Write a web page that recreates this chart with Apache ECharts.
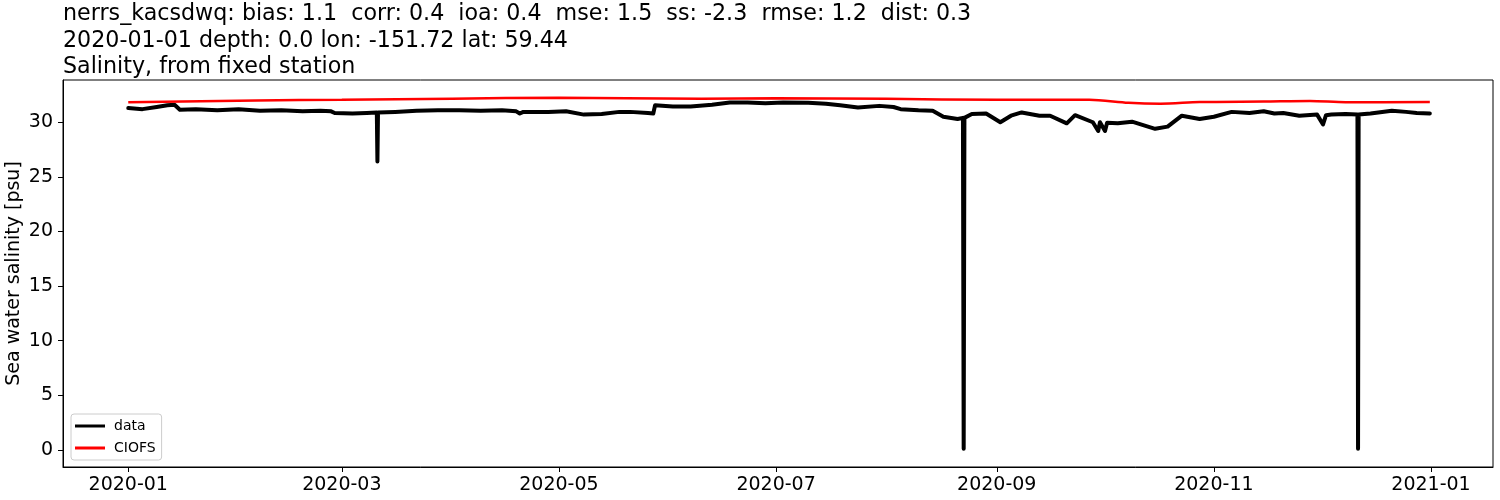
<!DOCTYPE html>
<html>
<head>
<meta charset="utf-8">
<script src="https://cdn.jsdelivr.net/npm/echarts@6/dist/echarts.min.js"></script>
<style>html,body{margin:0;padding:0;background:#fff}#c{width:1500px;height:500px}</style>
</head>
<body>
<div id="c"></div>
<script>
// ---- data ----
const titleLines = [
  'nerrs_kacsdwq: bias: 1.1  corr: 0.4  ioa: 0.4  mse: 1.5  ss: -2.3  rmse: 1.2  dist: 0.3',
  '2020-01-01 depth: 0.0 lon: -151.72 lat: 59.44',
  'Salinity, from fixed station'
];
const yAxisName = 'Sea water salinity [psu]';
const seriesNames = ['data', 'CIOFS'];

const obsDates = [
  '2020-01-01','2020-01-05','2020-01-09','2020-01-12','2020-01-14','2020-01-15 12:00','2020-01-20','2020-01-26',
  '2020-02-01','2020-02-07','2020-02-13','2020-02-19','2020-02-24','2020-02-27','2020-02-28',
  '2020-03-04','2020-03-08','2020-03-10 20:00','2020-03-11 00:00','2020-03-11 04:00','2020-03-16','2020-03-22','2020-03-28',
  '2020-04-03','2020-04-09','2020-04-15','2020-04-19','2020-04-20','2020-04-21','2020-04-28',
  '2020-05-03','2020-05-08','2020-05-13','2020-05-18','2020-05-21','2020-05-26','2020-05-27 12:00','2020-05-28',
  '2020-06-02','2020-06-07','2020-06-13','2020-06-18','2020-06-23','2020-06-28',
  '2020-07-03','2020-07-10','2020-07-15','2020-07-19','2020-07-24','2020-07-30',
  '2020-08-03','2020-08-05','2020-08-10','2020-08-14','2020-08-17','2020-08-21','2020-08-22 12:00','2020-08-22 17:00','2020-08-22 22:00','2020-08-25','2020-08-29',
  '2020-09-02','2020-09-05','2020-09-08','2020-09-13','2020-09-16','2020-09-20 16:00','2020-09-23','2020-09-28','2020-09-29 12:00','2020-09-30','2020-10-01 10:00','2020-10-02',
  '2020-10-05','2020-10-09','2020-10-15 12:00','2020-10-19','2020-10-23','2020-10-28',
  '2020-11-01','2020-11-06','2020-11-11','2020-11-15','2020-11-18','2020-11-20 12:00','2020-11-25','2020-11-30',
  '2020-12-01 16:00','2020-12-02 12:00','2020-12-04','2020-12-08','2020-12-11 08:00','2020-12-11 12:00','2020-12-11 16:00','2020-12-15','2020-12-21','2020-12-25','2020-12-28','2020-12-31 16:00'
];
const obsValues = [
  31.3, 31.2, 31.4, 31.55, 31.6, 31.15, 31.2, 31.1,
  31.2, 31.05, 31.1, 31.0, 31.05, 31.0, 30.85,
  30.8, 30.85, 30.9, 26.4, 30.9, 30.95, 31.05, 31.1,
  31.1, 31.05, 31.1, 31.0, 30.8, 30.95, 30.95,
  31.0, 30.7, 30.75, 30.95, 30.95, 30.85, 30.8, 31.55,
  31.45, 31.45, 31.6, 31.8, 31.8, 31.75,
  31.8, 31.78, 31.7, 31.55, 31.35, 31.5,
  31.4, 31.2, 31.1, 31.05, 30.5, 30.3, 30.4, 0.1, 30.4, 30.75, 30.8,
  30.0, 30.6, 30.9, 30.6, 30.6, 29.9, 30.65, 30.0, 29.2, 30.0, 29.2, 29.95,
  29.9, 30.05, 29.4, 29.6, 30.6, 30.3,
  30.5, 30.95, 30.85, 31.0, 30.8, 30.85, 30.6, 30.7,
  29.8, 30.65, 30.7, 30.75, 30.7, 0.1, 30.7, 30.8, 31.05, 30.95, 30.85, 30.8
];

const modelDates = [
  '2020-01-01','2020-02-06','2020-03-01','2020-04-01','2020-05-01','2020-05-20','2020-06-10','2020-07-01',
  '2020-08-01','2020-09-01','2020-09-27','2020-10-08','2020-10-17','2020-10-28','2020-11-15','2020-11-28','2020-12-08','2020-12-31 16:00'
];
const modelValues = [
  31.83, 32.0, 32.05, 32.15, 32.25, 32.2, 32.15, 32.2,
  32.15, 32.05, 32.05, 31.78, 31.7, 31.85, 31.9, 31.95, 31.83, 31.86
];

const xTickDates = ['2020-01-01','2020-03-01','2020-05-01','2020-07-01','2020-09-01','2020-11-01','2021-01-01'];
const xTickLabels = ['2020-01','2020-03','2020-05','2020-07','2020-09','2020-11','2021-01'];
const yTickValues = [0, 5, 10, 15, 20, 25, 30];
const xRange = ['2019-12-13 16:00', '2021-01-18 10:00'];
const yRange = [-1.58, 33.87];

// ---- chart ----
const parse = s => echarts.time.parse(s).getTime();
const xTickMs = xTickDates.map(parse);
const chart = echarts.init(document.getElementById('c'), null, {renderer: 'canvas'});
const font = 'DejaVu Sans';
chart.setOption({
  animation: false,
  backgroundColor: '#fff',
  title: {
    text: titleLines.join('\n'),
    left: 63, top: 1, padding: 0,
    textStyle: {fontFamily: font, fontSize: 22.2, fontWeight: 'normal', color: '#000', lineHeight: 26.5}
  },
  grid: {left: 63, right: 7, top: 80, bottom: 33, show: true, borderColor: '#000', borderWidth: 1,
         containLabel: false, outerBoundsMode: 'none'},
  legend: {
    left: 71, top: 414, orient: 'vertical',
    padding: [5, 6, 5, 4], itemGap: 8, itemWidth: 30, itemHeight: 3,
    borderColor: '#cccccc', borderWidth: 1, borderRadius: 3, backgroundColor: 'rgba(255,255,255,0.8)',
    icon: 'rect',
    textStyle: {fontFamily: font, fontSize: 14, color: '#000', lineHeight: 14, padding: [0,0,0,4]},
    data: seriesNames
  },
  xAxis: {
    type: 'value',
    min: parse(xRange[0]), max: parse(xRange[1]),
    axisLine: {show: true, onZero: false, lineStyle: {color: '#000', width: 1}},
    axisTick: {show: true, length: 5, lineStyle: {color: '#000', width: 1}, customValues: xTickMs},
    axisLabel: {
      fontFamily: font, fontSize: 19, color: '#000', margin: 9,
      customValues: xTickMs,
      formatter: v => { const i = xTickMs.indexOf(v); return i >= 0 ? xTickLabels[i] : ''; }
    },
    splitLine: {show: false}
  },
  yAxis: {
    type: 'value',
    min: yRange[0], max: yRange[1],
    name: yAxisName, nameLocation: 'middle', nameGap: 39, nameRotate: 90, nameMoveOverlap: false,
    nameTextStyle: {fontFamily: font, fontSize: 19, color: '#000'},
    axisLine: {show: true, lineStyle: {color: '#000', width: 1}},
    axisTick: {show: true, length: 5, lineStyle: {color: '#000', width: 1}, customValues: yTickValues},
    axisLabel: {fontFamily: font, fontSize: 19, color: '#000', margin: 10, customValues: yTickValues},
    splitLine: {show: false}
  },
  series: [
    {
      name: seriesNames[0], type: 'line', symbol: 'none', showSymbol: false,
      data: obsDates.map((d, i) => [parse(d), obsValues[i]]),
      lineStyle: {color: '#000', width: 4, join: 'round', cap: 'round'},
      itemStyle: {color: '#000'}
    },
    {
      name: seriesNames[1], type: 'line', symbol: 'none', showSymbol: false, smooth: 0.3,
      data: modelDates.map((d, i) => [parse(d), modelValues[i]]),
      lineStyle: {color: '#ff0000', width: 2.5},
      itemStyle: {color: '#ff0000'}
    }
  ]
});
</script>
</body>
</html>
